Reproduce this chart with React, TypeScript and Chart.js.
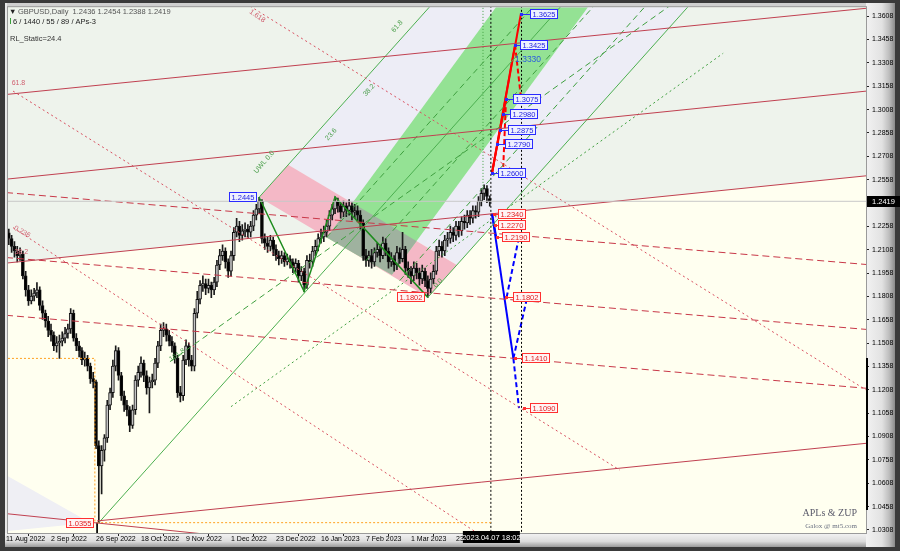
import { useEffect, useRef } from "react";
import { Chart, registerables } from "chart.js";

Chart.register(...registerables);

// ---------- data ----------
const dateLabels = ["11 Aug 2022", "2 Sep 2022", "26 Sep 2022", "18 Oct 2022", "9 Nov 2022", "1 Dec 2022", "23 Dec 2022", "16 Jan 2023", "7 Feb 2023", "1 Mar 2023", "23 Mar 2023"];
const dateTickBars = [0, 16, 32, 48, 64, 80, 96, 112, 128, 144, 160];
const priceTicks = [1.3608, 1.3458, 1.3308, 1.3158, 1.3008, 1.2858, 1.2708, 1.2558, 1.2408, 1.2258, 1.2108, 1.1958, 1.1808, 1.1658, 1.1508, 1.1358, 1.1208, 1.1058, 1.0908, 1.0758, 1.0608, 1.0458, 1.0308];

const FIRST_OPEN = 1.226;
const LAST_OPEN = 1.2436;
const LAST_PRICE = 1.2419;

const closes = [
  1.2217, 1.218, 1.213, 1.210, 1.207, 1.208, 1.194, 1.185, 1.178, 1.181,
  1.183, 1.185, 1.175, 1.170, 1.165, 1.159, 1.156, 1.149, 1.151, 1.152,
  1.154, 1.157, 1.160, 1.170, 1.154, 1.149, 1.146, 1.140, 1.141, 1.136,
  1.128, 1.126, 1.085, 1.072, 1.082, 1.090, 1.111, 1.119, 1.136, 1.146,
  1.130, 1.117, 1.111, 1.108, 1.098, 1.108, 1.127, 1.132, 1.138, 1.130,
  1.122, 1.126, 1.127, 1.138, 1.149, 1.159, 1.160, 1.156, 1.152, 1.149,
  1.141, 1.119, 1.117, 1.140, 1.149, 1.140, 1.136, 1.170, 1.179, 1.188,
  1.189, 1.186, 1.188, 1.185, 1.190, 1.201, 1.207, 1.210, 1.203, 1.197,
  1.207, 1.222, 1.226, 1.220, 1.223, 1.224, 1.222, 1.226, 1.233, 1.237,
  1.242, 1.218, 1.215, 1.213, 1.217, 1.211, 1.207, 1.205, 1.207, 1.203,
  1.205, 1.203, 1.199, 1.202, 1.194, 1.197, 1.188, 1.204, 1.203, 1.210,
  1.213, 1.218, 1.219, 1.222, 1.226, 1.233, 1.237, 1.242, 1.239, 1.235,
  1.239, 1.236, 1.239, 1.235, 1.236, 1.233, 1.228, 1.207, 1.204, 1.207,
  1.203, 1.209, 1.211, 1.207, 1.215, 1.210, 1.203, 1.205, 1.201, 1.209,
  1.205, 1.211, 1.199, 1.197, 1.194, 1.199, 1.196, 1.192, 1.197, 1.191,
  1.186, 1.192, 1.197, 1.210, 1.213, 1.210, 1.217, 1.218, 1.222, 1.220,
  1.226, 1.223, 1.229, 1.228, 1.233, 1.231, 1.236, 1.235, 1.242, 1.247,
  1.250, 1.245, 1.2419,
];
const highs = [
  1.229, 1.224, 1.220, 1.216, 1.213, 1.212, 1.210, 1.197, 1.188, 1.185,
  1.186, 1.1897, 1.187, 1.178, 1.172, 1.168, 1.163, 1.158, 1.155, 1.156,
  1.158, 1.161, 1.163, 1.173, 1.172, 1.157, 1.152, 1.148, 1.145, 1.143,
  1.138, 1.132, 1.127, 1.088, 1.085, 1.092, 1.114, 1.122, 1.140, 1.149,
  1.148, 1.132, 1.120, 1.114, 1.110, 1.111, 1.130, 1.136, 1.142, 1.140,
  1.133, 1.129, 1.131, 1.141, 1.152, 1.163, 1.164, 1.163, 1.159, 1.155,
  1.151, 1.143, 1.123, 1.143, 1.153, 1.151, 1.143, 1.173, 1.184, 1.191,
  1.194, 1.192, 1.192, 1.190, 1.193, 1.204, 1.211, 1.214, 1.212, 1.205,
  1.210, 1.225, 1.231, 1.229, 1.227, 1.228, 1.227, 1.229, 1.236, 1.240,
  1.2445, 1.243, 1.221, 1.219, 1.220, 1.219, 1.214, 1.210, 1.210, 1.209,
  1.208, 1.207, 1.205, 1.205, 1.204, 1.200, 1.199, 1.207, 1.208, 1.213,
  1.217, 1.221, 1.224, 1.226, 1.230, 1.236, 1.240, 1.2447, 1.244, 1.241,
  1.242, 1.241, 1.243, 1.241, 1.240, 1.239, 1.236, 1.230, 1.211, 1.210,
  1.211, 1.212, 1.215, 1.214, 1.219, 1.218, 1.212, 1.209, 1.207, 1.213,
  1.212, 1.222, 1.213, 1.203, 1.200, 1.203, 1.202, 1.199, 1.201, 1.199,
  1.194, 1.196, 1.201, 1.213, 1.217, 1.216, 1.220, 1.222, 1.226, 1.225,
  1.229, 1.229, 1.232, 1.233, 1.236, 1.236, 1.239, 1.239, 1.245, 1.250,
  1.2525, 1.252, 1.2454,
];
const lows = [
  1.217, 1.214, 1.209, 1.206, 1.203, 1.204, 1.192, 1.181, 1.175, 1.176,
  1.178, 1.180, 1.172, 1.166, 1.161, 1.155, 1.152, 1.146, 1.145, 1.141,
  1.149, 1.151, 1.154, 1.157, 1.152, 1.146, 1.142, 1.137, 1.136, 1.133,
  1.125, 1.122, 1.083, 1.0355, 1.054, 1.075, 1.087, 1.108, 1.116, 1.133,
  1.127, 1.114, 1.107, 1.104, 1.094, 1.096, 1.105, 1.123, 1.129, 1.126,
  1.118, 1.106, 1.122, 1.124, 1.135, 1.146, 1.155, 1.152, 1.149, 1.145,
  1.138, 1.116, 1.113, 1.114, 1.137, 1.136, 1.133, 1.133, 1.167, 1.176,
  1.184, 1.182, 1.183, 1.180, 1.182, 1.187, 1.198, 1.204, 1.199, 1.193,
  1.194, 1.204, 1.219, 1.216, 1.217, 1.219, 1.218, 1.219, 1.223, 1.230,
  1.234, 1.215, 1.211, 1.209, 1.210, 1.207, 1.204, 1.201, 1.202, 1.200,
  1.201, 1.199, 1.196, 1.196, 1.190, 1.191, 1.184, 1.186, 1.199, 1.200,
  1.207, 1.210, 1.215, 1.216, 1.219, 1.223, 1.230, 1.234, 1.235, 1.231,
  1.232, 1.232, 1.233, 1.230, 1.231, 1.229, 1.224, 1.204, 1.200, 1.200,
  1.199, 1.200, 1.206, 1.203, 1.205, 1.207, 1.199, 1.200, 1.197, 1.198,
  1.202, 1.203, 1.195, 1.193, 1.189, 1.191, 1.192, 1.188, 1.189, 1.187,
  1.1802, 1.183, 1.189, 1.195, 1.207, 1.206, 1.207, 1.213, 1.215, 1.216,
  1.217, 1.219, 1.220, 1.224, 1.225, 1.227, 1.228, 1.231, 1.232, 1.239,
  1.243, 1.241, 1.2388,
];

// drawing objects, as [bar index, price]
type Pt = [number, number];
const redSolidR1: Pt[] = [[0, 1.3105], [306, 1.3659]];
const redSolidR2: Pt[] = [[0, 1.2561], [306, 1.3127]];
const redSolidR3: Pt[] = [[0, 1.2022], [306, 1.2583]];
const redSolidR4: Pt[] = [[32.4, 1.0366], [306, 1.0865]];
const redSolidR5: Pt[] = [[0, 1.0413], [70, 1.0283]];
const redDashD1: Pt[] = [[0, 1.2475], [306, 1.2013]];
const redDashD2: Pt[] = [[0, 1.2058], [306, 1.1596]];
const redDashD3: Pt[] = [[0, 1.1687], [306, 1.1218]];
const redDotF0: Pt[] = [[86.8, 1.3672], [306, 1.1205]];
const redDotF1: Pt[] = [[2.5, 1.3127], [218.3, 1.0692]];
const redDotF2: Pt[] = [[2.5, 1.2250], [167.5, 1.0289]];

const pfLine1: Pt[] = [[33, 1.0355], [198, 1.3685]];
const pfLineA: Pt[] = [[90, 1.2445], [152, 1.3696]];
const pfLineD: Pt[] = [[150, 1.1802], [244, 1.3699]];
const pfDash1: Pt[] = [[114, 1.2188], [190, 1.3722]];
const pfDash2: Pt[] = [[128, 1.2038], [212, 1.3733]];
const pfDash3: Pt[] = [[140, 1.1910], [230, 1.3726]];
const fanGreen1: Pt[] = [[58.3, 1.1389], [238, 1.3700]];
const fanGreen2: Pt[] = [[80, 1.1100], [255, 1.3370]];

const zupPath: Pt[] = [[90, 1.2445], [106, 1.1840], [117, 1.2447], [150, 1.1802]];

const pinkBand: Pt[] = [[90, 1.2445], [100.3, 1.2653], [160.3, 1.2010], [150, 1.1802]];
const lavenderZone: Pt[] = [[100.3, 1.2653], [152, 1.3696], [244, 1.3699], [160.3, 1.2010]];
const greenBand: Pt[] = [[114.1, 1.2185], [174.2, 1.3666], [206.9, 1.3666], [137.2, 1.1948]];
const upperZone: Pt[] = [[0, 1.2022], [306, 1.2583], [306, 1.37], [0, 1.37]];
const lowerLeftZone: Pt[] = [[0, 1.0660], [30, 1.0355], [0, 1.0300]];

const redProjSolid: Pt[][] = [
  [[172.8, 1.2600], [183.1, 1.3625]],
  [[172.8, 1.2600], [181.0, 1.3425]],
  [[172.8, 1.2600], [177.8, 1.3075]],
];
const redProjDash: Pt[][] = [
  [[181.0, 1.3425], [183.3, 1.3050]],
  [[177.8, 1.3075], [176.8, 1.2640]],
];
const blueProjSolid: Pt[][] = [
  [[172.8, 1.2340], [180.4, 1.1410]],
  [[172.8, 1.2340], [174.3, 1.2190]],
];
const blueProjDash: Pt[][] = [
  [[180.4, 1.1410], [182.4, 1.1090]],
  [[178.0, 1.1802], [182.4, 1.2190]],
  [[180.4, 1.1410], [185.3, 1.1802]],
];

const upLabels: [number, number, number][] = [
  [1.3625, 183.1, 186.3], [1.3425, 181.0, 182.8], [1.3075, 177.8, 180.3], [1.2980, 176.7, 179.2],
  [1.2875, 175.6, 178.5], [1.2790, 174.6, 177.4], [1.2600, 172.8, 175.0],
];
const downLabels: [number, number, number][] = [
  [1.2340, 173.5, 175.0], [1.2270, 173.9, 175.0], [1.2190, 174.6, 176.4], [1.1802, 177.8, 180.3],
  [1.1410, 181.0, 183.5], [1.1090, 184.2, 186.3],
];

export default function App() {
  const ref = useRef<HTMLCanvasElement>(null);
  useEffect(() => {
    document.body.style.margin = "0";
    const canvas = ref.current!;
    const opens = closes.map((c, i) => (i === 0 ? FIRST_OPEN : i === closes.length - 1 ? LAST_OPEN : closes[i - 1]));
    const wickData = closes.map((_, i) => ({ x: i, y: [lows[i], highs[i]] }));
    const bodyData = closes.map((c, i) => {
      const lo = Math.min(opens[i], c);
      const hi = Math.max(opens[i], c);
      return { x: i, y: [lo, Math.max(hi, lo + 0.0007)] };
    });
    const bodyColors = closes.map((c, i) => (c >= opens[i] ? "#c4c4c4" : "#000000"));

    const FONT = '"Liberation Sans", Arial, sans-serif';
    const line = (pts: Pt[], color: string, width: number, dash: number[] = []) => ({
      type: "line" as const,
      data: pts.map(([x, y]) => ({ x, y })),
      borderColor: color,
      borderWidth: width,
      borderDash: dash,
      pointRadius: 0,
      fill: false,
      tension: 0,
      order: 0,
    });

    const lineSets = [
      line([[0, LAST_PRICE], [306, LAST_PRICE]], "#c8c8c8", 1),
      line(redSolidR1, "#c04050", 1),
      line(redSolidR2, "#c04050", 1),
      line(redSolidR3, "#c04050", 1),
      line(redSolidR4, "#c04050", 1),
      line(redSolidR5, "#c04050", 1),
      line(redDashD1, "#c83848", 1, [7, 4]),
      line(redDashD2, "#c83848", 1, [7, 4]),
      line(redDashD3, "#c83848", 1, [7, 4]),
      line(redDotF0, "#d85060", 1, [2, 3]),
      line(redDotF1, "#d85060", 1, [2, 3]),
      line(redDotF2, "#d85060", 1, [2, 3]),
      line(pfLine1, "#4caf50", 1),
      line(pfLineA, "#4caf50", 1),
      line(pfLineD, "#4caf50", 1),
      line(pfDash1, "#3f9f3f", 1, [6, 4]),
      line(pfDash2, "#3f9f3f", 1, [6, 4]),
      line(pfDash3, "#3f9f3f", 1, [6, 4]),
      line(fanGreen1, "#3f9f3f", 1, [6, 4]),
      line(fanGreen2, "#3f9f3f", 1, [2, 3]),
      line(zupPath, "#1e8c1e", 1.5),
      line([[0.7, 1.1410], [31.6, 1.1410], [31.6, 1.0355]], "#ffa020", 1, [2, 2]),
      line([[32.4, 1.0355], [172.4, 1.0355]], "#ffa020", 1, [2, 2]),
      line([[32.4, 1.0355], [32.4, 1.02]], "#000000", 1),
      line([[169.6, 1.37], [169.6, 1.2519]], "#40a040", 1, [1, 2]),
      line([[172.4, 1.37], [172.4, 1.02]], "#000000", 1, [2, 2]),
      line([[183.3, 1.37], [183.3, 1.02]], "#000000", 1, [2, 2]),
      ...redProjSolid.map((p) => line(p, "#ff0000", 2)),
      ...redProjDash.map((p) => line(p, "#ff0000", 2, [5, 3])),
      ...blueProjSolid.map((p) => line(p, "#0000ff", 2)),
      ...blueProjDash.map((p) => line(p, "#0000ff", 2, [5, 3])),
    ];

    const poly = (chart: any, pts: Pt[]) => {
      const xs = chart.scales.x, ys = chart.scales.y;
      const ctx = chart.ctx;
      ctx.beginPath();
      pts.forEach(([b, p], i) => {
        const x = xs.getPixelForValue(b), y = ys.getPixelForValue(p);
        if (i === 0) ctx.moveTo(x, y); else ctx.lineTo(x, y);
      });
      ctx.closePath();
    };

    const mt5Plugin = {
      id: "mt5",
      beforeDraw(chart: any) {
        const ctx = chart.ctx;
        const ca = chart.chartArea;
        ctx.save();
        ctx.fillStyle = "#3a3a3a";
        ctx.fillRect(0, 0, 900, 551);
        ctx.fillStyle = "#cfcfcf";
        ctx.fillRect(5, 3, 890, 544);
        let g = ctx.createLinearGradient(ca.right, 0, 895, 0);
        g.addColorStop(0, "#f2f2f2");
        g.addColorStop(0.55, "#e2e2e2");
        g.addColorStop(0.8, "#bdbdbd");
        g.addColorStop(1, "#8a8a8a");
        ctx.fillStyle = g;
        ctx.fillRect(ca.right, 3, 895 - ca.right, 544);
        g = ctx.createLinearGradient(0, ca.bottom, 0, 547);
        g.addColorStop(0, "#f4f4f4");
        g.addColorStop(0.6, "#dcdcdc");
        g.addColorStop(1, "#9a9a9a");
        ctx.fillStyle = g;
        ctx.fillRect(5, ca.bottom, ca.right - 5, 547 - ca.bottom);
        ctx.fillStyle = "#e8e8e8";
        ctx.fillRect(5, 3, 2, ca.bottom - 3);
        ctx.fillStyle = "#fffff0";
        ctx.fillRect(ca.left, ca.top, ca.right - ca.left, ca.bottom - ca.top);
        ctx.restore();
      },
      beforeDatasetsDraw(chart: any) {
        const ctx = chart.ctx;
        const ca = chart.chartArea;
        ctx.save();
        ctx.beginPath();
        ctx.rect(ca.left, ca.top, ca.right - ca.left, ca.bottom - ca.top);
        ctx.clip();
        poly(chart, upperZone); ctx.fillStyle = "#eef3ec"; ctx.fill();
        poly(chart, lowerLeftZone); ctx.fillStyle = "#efeff4"; ctx.fill();
        poly(chart, lavenderZone); ctx.fillStyle = "#ededf6"; ctx.fill();
        poly(chart, pinkBand); ctx.fillStyle = "#f4b8c6"; ctx.fill();
        poly(chart, greenBand); ctx.fillStyle = "#94e294"; ctx.fill();
        poly(chart, pinkBand); ctx.clip();
        poly(chart, greenBand); ctx.fillStyle = "#9fb29f"; ctx.fill();
        ctx.restore();
      },
      afterDatasetsDraw(chart: any) {
        const ctx = chart.ctx;
        const xs = chart.scales.x, ys = chart.scales.y;
        ctx.save();
        ctx.font = "7.5px " + FONT;
        ctx.textBaseline = "middle";
        const box = (px: number, py: number, text: string, stroke: string, fill: string, tc: string, right = false) => {
          const w = Math.ceil(ctx.measureText(text).width) + 5;
          const h = 10;
          const left = Math.round(right ? px - w : px);
          const top = Math.round(py - h / 2);
          ctx.fillStyle = fill;
          ctx.fillRect(left, top, w, h);
          ctx.strokeStyle = stroke;
          ctx.lineWidth = 1;
          ctx.strokeRect(left + 0.5, top + 0.5, w - 1, h - 1);
          ctx.fillStyle = tc;
          ctx.textAlign = "left";
          ctx.fillText(text, left + 2.5, top + h / 2 + 0.5);
        };
        const labelSet = (arr: [number, number, number][], stroke: string, fill: string, tc: string) => {
          arr.forEach(([price, pb, bb]) => {
            const py = ys.getPixelForValue(price);
            const px = xs.getPixelForValue(pb);
            const bx = xs.getPixelForValue(bb);
            ctx.strokeStyle = stroke;
            ctx.lineWidth = 1;
            ctx.beginPath();
            ctx.moveTo(px, Math.round(py) + 0.5);
            ctx.lineTo(bx, Math.round(py) + 0.5);
            ctx.stroke();
            ctx.fillStyle = stroke;
            ctx.fillRect(Math.round(px) - 1, Math.round(py) - 1, 3, 3);
            box(bx, py, price.toFixed(4), stroke, fill, tc);
          });
        };
        labelSet(upLabels, "#2a2aff", "#eef0ff", "#1c1cdd");
        labelSet(downLabels, "#ff3030", "#fff4f4", "#e02020");
        ctx.fillStyle = "#2a5adf";
        ctx.font = "8.5px " + FONT;
        ctx.fillText("1.3330", xs.getPixelForValue(181.0), ys.getPixelForValue(1.3330));
        ctx.font = "7.5px " + FONT;
        box(xs.getPixelForValue(90) - 2, ys.getPixelForValue(1.2445), "1.2445", "#2a2aff", "#eef0ff", "#1c1cdd", true);
        box(xs.getPixelForValue(150) - 3, ys.getPixelForValue(1.1802), "1.1802", "#ff3030", "#fff4f4", "#e02020", true);
        box(xs.getPixelForValue(32.4) - 3, ys.getPixelForValue(1.0355), "1.0355", "#ff3030", "#fff4f4", "#e02020", true);

        const rot = (text: string, b: number, p: number, ang: number, color: string, size = 7) => {
          ctx.save();
          ctx.translate(xs.getPixelForValue(b), ys.getPixelForValue(p));
          ctx.rotate(ang);
          ctx.font = size + "px " + FONT;
          ctx.fillStyle = color;
          ctx.textAlign = "left";
          ctx.fillText(text, 0, 0);
          ctx.restore();
        };
        rot("UWL 0.0", 88.6, 1.2605, -0.85, "#4a9e4a");
        rot("0.0", 152.5, 1.1870, -0.85, "#4a9e4a");
        rot("23.6", 114.0, 1.2816, -0.85, "#4a9e4a");
        rot("38.2", 127.5, 1.3100, -0.85, "#4a9e4a");
        rot("61.8", 137.5, 1.3510, -0.85, "#4a9e4a");
        rot("161.8", 58.3, 1.1400, -0.6, "#4a9e4a");
        rot("61.8", 2.0, 1.3180, 0, "#d06070");
        rot("0.236", 3.0, 1.2250, 0.5, "#d06070");
        rot("38.2", 3.0, 1.2090, 0, "#d06070");
        rot("1.618", 86.8, 1.3640, 0.6, "#d06070");
        ctx.restore();
      },
      afterDraw(chart: any) {
        const ctx = chart.ctx;
        const ca = chart.chartArea;
        const xs = chart.scales.x, ys = chart.scales.y;
        ctx.save();
        ctx.strokeStyle = "#9a9a9a";
        ctx.lineWidth = 1;
        ctx.strokeRect(ca.left - 0.5, ca.top - 0.5, ca.right - ca.left + 1, ca.bottom - ca.top + 1);
        ctx.fillStyle = "#000";
        ctx.fillRect(ca.right, 358, 2, 152);
        ctx.font = "7.5px " + FONT;
        ctx.textBaseline = "alphabetic";
        ctx.textAlign = "left";
        ctx.fillStyle = "#222";
        ctx.fillText("\u25BC", 9, 14);
        ctx.fillStyle = "#555";
        ctx.fillText("GBPUSD,Daily  1.2436 1.2454 1.2388 1.2419", 18, 14);
        ctx.fillStyle = "#3aa03a";
        ctx.fillRect(10, 18, 1, 6);
        ctx.fillStyle = "#222";
        ctx.fillText("6 / 1440 / 55 / 89 / APs-3", 13, 24);
        ctx.fillStyle = "#333";
        ctx.fillText("RL_Static=24.4", 10, 41);
        ctx.font = '10px "Liberation Serif", "DejaVu Serif", serif';
        ctx.fillStyle = "#5a5a6a";
        ctx.textAlign = "right";
        ctx.fillText("APLs & ZUP", 857, 516);
        ctx.font = '7px "Liberation Serif", "DejaVu Serif", serif';
        ctx.fillStyle = "#6a7080";
        ctx.fillText("Galox @ mt5.com", 857, 528);
        const py = Math.round(ys.getPixelForValue(LAST_PRICE));
        ctx.fillStyle = "#000";
        ctx.fillRect(ca.right + 1, py - 5, 33, 11);
        ctx.fillStyle = "#fff";
        ctx.textAlign = "left";
        ctx.textBaseline = "middle";
        ctx.font = "7.5px " + FONT;
        ctx.fillText(LAST_PRICE.toFixed(4), ca.right + 6, py + 0.5);
        const tx = xs.getPixelForValue(172.4);
        ctx.fillStyle = "#000";
        ctx.fillRect(tx - 28, ca.bottom - 2, 57, 12);
        ctx.fillStyle = "#fff";
        ctx.textAlign = "center";
        ctx.fillText("2023.04.07 18:02", tx + 0.5, ca.bottom + 4.5);
        ctx.restore();
      },
    };

    const chart = new Chart(canvas, {
      type: "bar",
      data: {
        datasets: [
          ...(lineSets as any[]),
          {
            type: "bar",
            data: bodyData as any,
            backgroundColor: bodyColors,
            borderColor: "#111",
            borderWidth: 1,
            borderSkipped: false,
            barThickness: 3,
            grouped: false,
            order: 2,
          },
          {
            type: "bar",
            data: wickData as any,
            backgroundColor: "#1a1a1a",
            borderWidth: 0,
            barThickness: 1,
            grouped: false,
            order: 3,
          },
        ],
      },
      options: {
        animation: false,
        responsive: false,
        devicePixelRatio: 1,
        events: [],
        layout: { padding: { left: 8, top: 6, right: 0, bottom: 0 } },
        plugins: { legend: { display: false }, tooltip: { enabled: false } },
        scales: {
          x: {
            type: "linear",
            min: 0.711,
            max: 305.78,
            offset: false,
            afterFit: (s: any) => { s.height = 18; },
            afterBuildTicks: (s: any) => { s.ticks = dateTickBars.map((v) => ({ value: v })); },
            ticks: {
              autoSkip: false,
              maxRotation: 0,
              align: "start",
              padding: -1,
              color: "#000",
              font: { family: FONT, size: 7 },
              callback: (_v: any, i: number) => dateLabels[i],
            },
            grid: { display: true, drawOnChartArea: false, drawTicks: true, tickLength: 3, tickColor: "#222" },
            border: { display: false },
          },
          y: {
            type: "linear",
            position: "right",
            min: 1.02886,
            max: 1.36657,
            afterFit: (s: any) => { s.width = 34; },
            afterBuildTicks: (s: any) => { s.ticks = priceTicks.map((v) => ({ value: v })); },
            ticks: {
              autoSkip: false,
              padding: 3,
              color: "#000",
              font: { family: FONT, size: 7 },
              callback: (v: any) => Number(v).toFixed(4),
            },
            grid: { display: true, drawOnChartArea: false, drawTicks: true, tickLength: 3, tickColor: "#222" },
            border: { display: false },
          },
        },
      } as any,
      plugins: [mt5Plugin],
    });
    return () => chart.destroy();
  }, []);
  return <canvas ref={ref} width={900} height={551} style={{ display: "block", width: 900, height: 551 }} />;
}
